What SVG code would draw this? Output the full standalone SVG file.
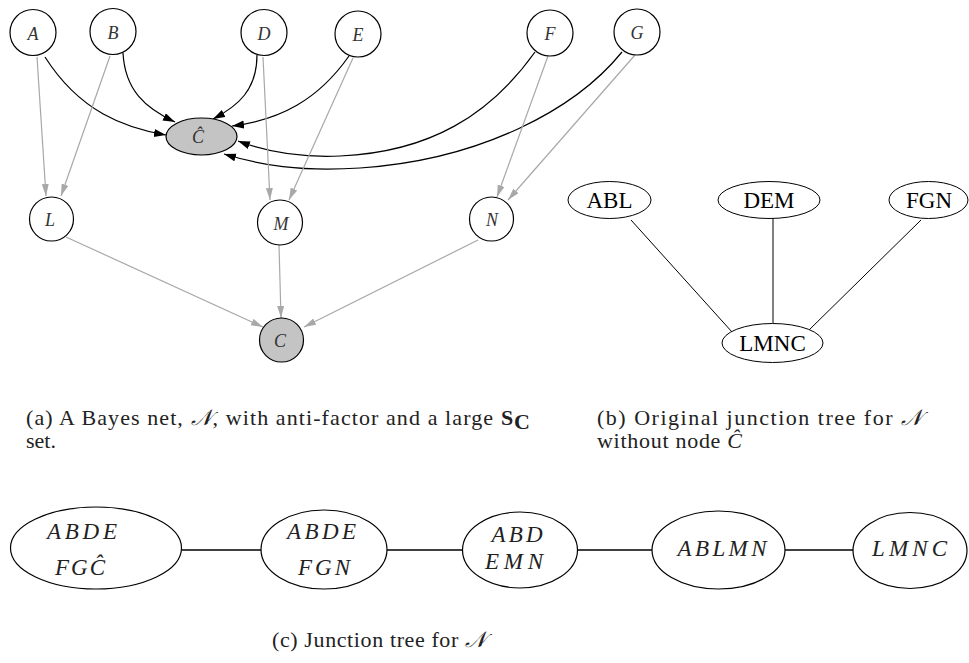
<svg xmlns="http://www.w3.org/2000/svg" width="969" height="663" viewBox="0 0 969 663">
  <style>
    .bg { fill: #ffffff; }
    .node { fill: #ffffff; stroke: #000000; stroke-width: 1.2; }
    .thin { fill: #ffffff; stroke: #000000; stroke-width: 1; }
    .shaded { fill: #c4c4c4; stroke: #000000; stroke-width: 1.2; }
    .var { font-family: "Liberation Serif", "DejaVu Serif", serif; font-style: italic; font-size: 18px; fill: #333333; text-anchor: middle; }
    .clique { font-family: "Liberation Serif", "Times New Roman", serif; font-size: 23px; fill: #000000; text-anchor: middle; }
    .cl2 { font-family: "Liberation Serif", "DejaVu Serif", serif; font-style: italic; font-size: 23px; fill: #222222; text-anchor: middle; }
    .cap { font-family: "Liberation Serif", "DejaVu Serif", serif; font-size: 22px; fill: #222222; }
    .calN { font-family: "DejaVu Sans", "DejaVu Serif", serif; font-style: italic; }
    .strong { stroke: #000000; stroke-width: 1.2; fill: none; }
    .weak { stroke: #a8a8a8; stroke-width: 1.2; fill: none; }
    .tree { stroke: #000000; stroke-width: 1; fill: none; }
    .chain { stroke: #000000; stroke-width: 1.3; fill: none; }
  </style>
  <defs>
    <marker id="headBlack" markerUnits="userSpaceOnUse" markerWidth="13" markerHeight="9" refX="12" refY="4" orient="auto">
      <path d="M0,0 L12,4 L0,8 z" fill="#000000"/>
    </marker>
    <marker id="headGray" markerUnits="userSpaceOnUse" markerWidth="13" markerHeight="9" refX="12" refY="3.5" orient="auto">
      <path d="M0,0 L12,3.5 L0,7 z" fill="#a8a8a8"/>
    </marker>
  </defs>
  <rect class="bg" x="0" y="0" width="969" height="663"/>

  <!-- (a) Bayes net edges -->
  <g id="edges-a">
    <path class="strong" marker-end="url(#headBlack)" d="M45,57 C80,112 125,128 166,135"/>
    <path class="strong" marker-end="url(#headBlack)" d="M123,53 C125,90 145,108 175,122"/>
    <path class="strong" marker-end="url(#headBlack)" d="M257,55 C257,90 238,106 213,119"/>
    <path class="strong" marker-end="url(#headBlack)" d="M349,56 C318,100 280,120 232,126"/>
    <path class="strong" marker-end="url(#headBlack)" d="M535,52 C490,115 430,152 340,156 C295,158 262,150 238,141"/>
    <path class="strong" marker-end="url(#headBlack)" d="M622,52 C575,110 480,160 360,168 C300,172 260,165 224,154"/>
    <line class="weak" marker-end="url(#headGray)" x1="37" y1="57" x2="46" y2="196"/>
    <line class="weak" marker-end="url(#headGray)" x1="110" y1="56" x2="61" y2="196"/>
    <line class="weak" marker-end="url(#headGray)" x1="263" y1="57" x2="270" y2="200"/>
    <line class="weak" marker-end="url(#headGray)" x1="353" y1="58" x2="289" y2="200"/>
    <line class="weak" marker-end="url(#headGray)" x1="548" y1="56" x2="497" y2="197"/>
    <line class="weak" marker-end="url(#headGray)" x1="635" y1="55" x2="508" y2="200"/>
    <line class="weak" marker-end="url(#headGray)" x1="66" y1="237" x2="263" y2="327"/>
    <line class="weak" marker-end="url(#headGray)" x1="279" y1="245" x2="281" y2="318"/>
    <line class="weak" marker-end="url(#headGray)" x1="478" y1="240" x2="304" y2="327"/>
  </g>

  <!-- (a) Bayes net nodes -->
  <g id="node-A"><circle class="node" cx="33" cy="32.5" r="23"/><text class="var" x="33" y="40">A</text></g>
  <g id="node-B"><circle class="node" cx="113" cy="31.5" r="23"/><text class="var" x="113" y="39">B</text></g>
  <g id="node-D"><circle class="node" cx="264" cy="32.5" r="23"/><text class="var" x="264" y="40">D</text></g>
  <g id="node-E"><circle class="node" cx="358" cy="34" r="23"/><text class="var" x="358" y="41">E</text></g>
  <g id="node-F"><circle class="node" cx="550" cy="33" r="23"/><text class="var" x="550" y="40">F</text></g>
  <g id="node-G"><circle class="node" cx="637" cy="32" r="23"/><text class="var" x="637" y="39">G</text></g>
  <g id="node-Chat"><ellipse class="shaded" cx="201.5" cy="136.5" rx="35.5" ry="18.5"/><text class="var" x="198" y="143">Ĉ</text></g>
  <g id="node-L"><circle class="node" cx="51.5" cy="219" r="22"/><text class="var" x="50" y="226">L</text></g>
  <g id="node-M"><circle class="node" cx="280" cy="222.5" r="22.5"/><text class="var" x="281" y="230">M</text></g>
  <g id="node-N"><circle class="node" cx="491.5" cy="219" r="22"/><text class="var" x="492" y="226">N</text></g>
  <g id="node-C"><circle class="shaded" cx="281.5" cy="340" r="22"/><text class="var" x="280" y="347">C</text></g>

  <!-- (b) original junction tree -->
  <g id="edges-b">
    <line class="tree" x1="631" y1="220" x2="732" y2="332"/>
    <line class="tree" x1="773" y1="218" x2="773" y2="323"/>
    <line class="tree" x1="921" y1="220" x2="807" y2="332"/>
  </g>
  <g id="node-ABL"><ellipse class="thin" cx="609.5" cy="200" rx="41.5" ry="18.5"/><text class="clique" x="609.5" y="208">ABL</text></g>
  <g id="node-DEM"><ellipse class="thin" cx="769" cy="200" rx="51" ry="18.5"/><text class="clique" x="769" y="208">DEM</text></g>
  <g id="node-FGN"><ellipse class="thin" cx="928.5" cy="200" rx="39.5" ry="18.5"/><text class="clique" x="929" y="208">FGN</text></g>
  <g id="node-LMNC"><ellipse class="thin" cx="772.5" cy="343" rx="50.5" ry="19.5"/><text class="clique" x="772.5" y="351">LMNC</text></g>

  <!-- captions (a), (b) -->
  <text class="cap" x="26" y="425" textLength="467" lengthAdjust="spacing">(a) A Bayes net, <tspan class="calN">𝒩</tspan>, with anti-factor and a large</text>
  <text class="cap" x="501" y="425" font-weight="bold">S</text>
  <text class="cap" x="514" y="429" font-weight="bold" font-size="15">C</text>
  <text class="cap" x="26" y="448">set.</text>
  <text class="cap" x="597" y="425" textLength="325" lengthAdjust="spacing">(b) Original junction tree for <tspan class="calN">𝒩</tspan></text>
  <text class="cap" x="597" y="448" textLength="145" lengthAdjust="spacing">without node <tspan font-style="italic">Ĉ</tspan></text>

  <!-- (c) junction tree chain -->
  <g id="edges-c">
    <line class="chain" x1="182" y1="550" x2="261" y2="550"/>
    <line class="chain" x1="387" y1="550" x2="462" y2="550"/>
    <line class="chain" x1="577" y1="550" x2="652" y2="550"/>
    <line class="chain" x1="785" y1="550" x2="853" y2="550"/>
  </g>
  <g id="node-ABDEFGChat"><ellipse class="node" cx="96" cy="548" rx="85.5" ry="41"/>
    <text class="cl2" x="82" y="539" textLength="70" lengthAdjust="spacing">ABDE</text>
    <text class="cl2" x="80" y="575" textLength="50" lengthAdjust="spacing">FGĈ</text></g>
  <g id="node-ABDEFGN"><ellipse class="node" cx="324" cy="549.5" rx="63" ry="39.5"/>
    <text class="cl2" x="321.5" y="539" textLength="69" lengthAdjust="spacing">ABDE</text>
    <text class="cl2" x="324" y="575" textLength="52" lengthAdjust="spacing">FGN</text></g>
  <g id="node-ABDEMN"><ellipse class="node" cx="520" cy="550" rx="57.5" ry="38"/>
    <text class="cl2" x="517" y="542" textLength="51" lengthAdjust="spacing">ABD</text>
    <text class="cl2" x="514" y="569" textLength="58" lengthAdjust="spacing">EMN</text></g>
  <g id="node-ABLMN"><ellipse class="node" cx="718.5" cy="550" rx="66.5" ry="39"/>
    <text class="cl2" x="722" y="556" textLength="89" lengthAdjust="spacing">ABLMN</text></g>
  <g id="node-LMNC-c"><ellipse class="node" cx="910" cy="550.5" rx="57" ry="38"/>
    <text class="cl2" x="909.5" y="556" textLength="75" lengthAdjust="spacing">LMNC</text></g>

  <!-- caption (c) -->
  <text class="cap" x="272" y="647" textLength="214" lengthAdjust="spacing">(c) Junction tree for <tspan class="calN">𝒩</tspan></text>
</svg>
